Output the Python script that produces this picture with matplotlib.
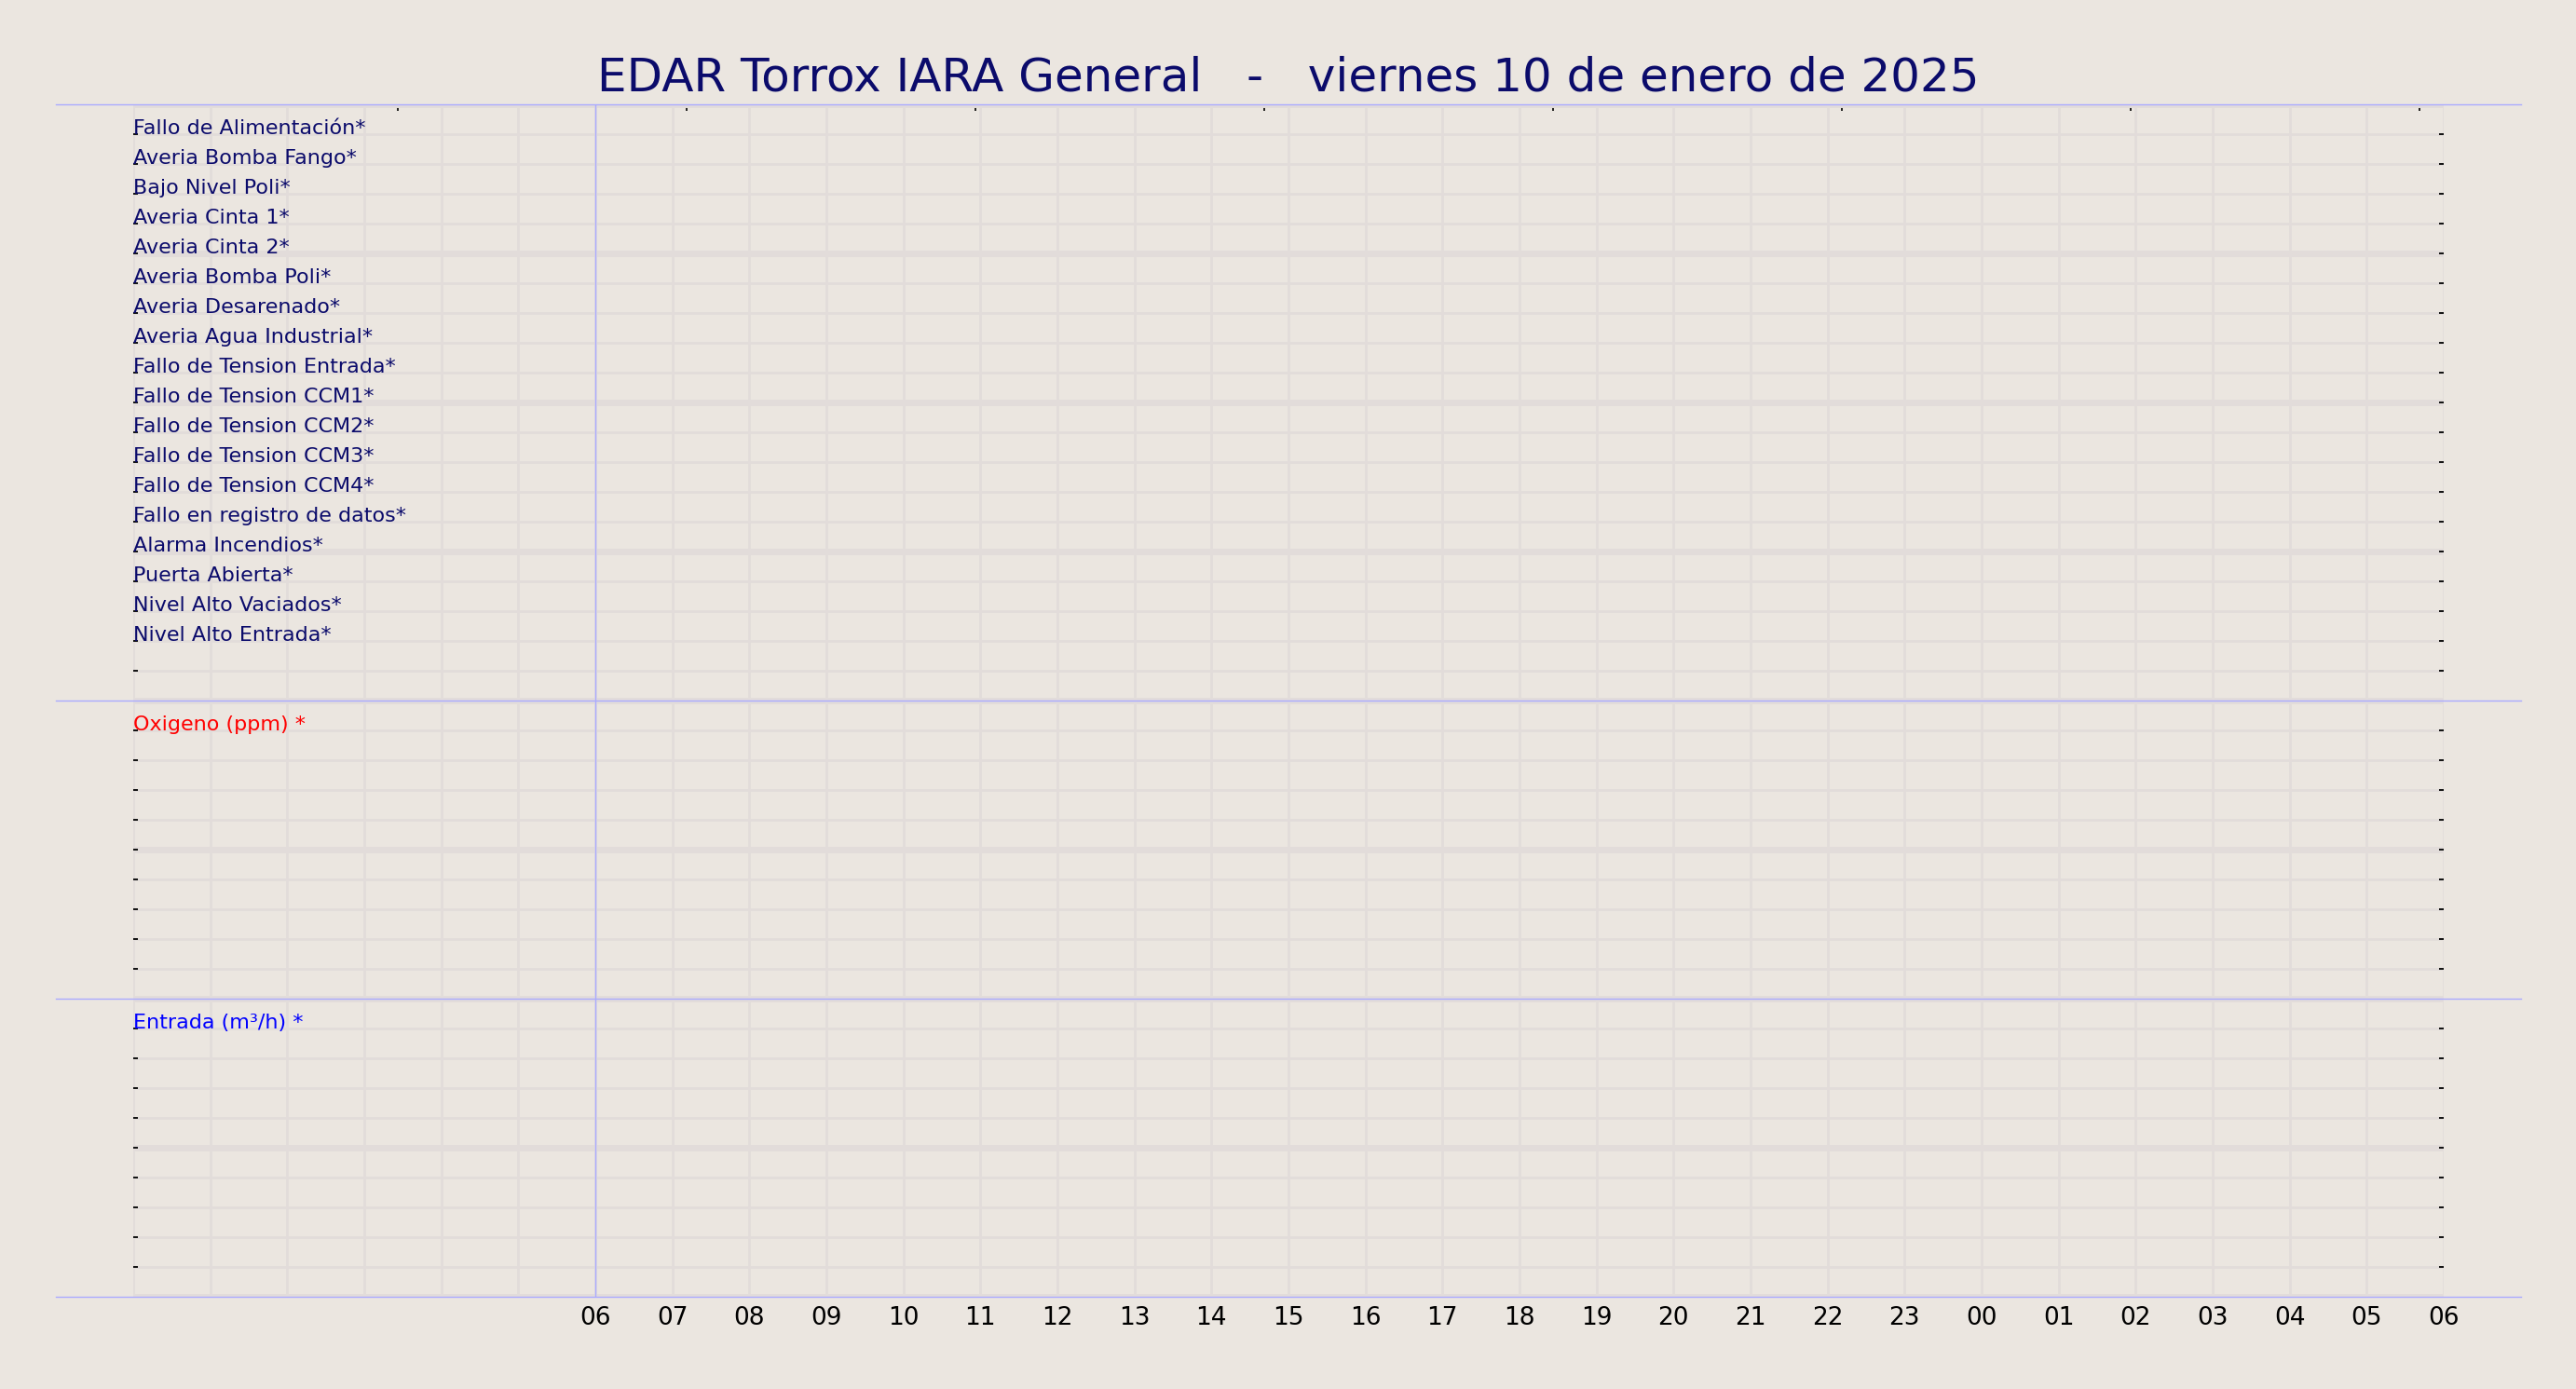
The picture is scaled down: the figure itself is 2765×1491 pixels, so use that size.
import matplotlib.pyplot as plt
from matplotlib.lines import Line2D
from matplotlib.ticker import FixedLocator

# datos del gráfico
titulo = "EDAR Torrox IARA General   -   viernes 10 de enero de 2025"
alarmas = ["Fallo de Alimentación*", "Averia Bomba Fango*", "Bajo Nivel Poli*",
           "Averia Cinta 1*", "Averia Cinta 2*", "Averia Bomba Poli*",
           "Averia Desarenado*", "Averia Agua Industrial*", "Fallo de Tension Entrada*",
           "Fallo de Tension CCM1*", "Fallo de Tension CCM2*", "Fallo de Tension CCM3*",
           "Fallo de Tension CCM4*", "Fallo en registro de datos*", "Alarma Incendios*",
           "Puerta Abierta*", "Nivel Alto Vaciados*", "Nivel Alto Entrada*"]
analogicas = ["Oxigeno (ppm) *", "Entrada (m³/h) *"]
colores_analog = ["#ff0000", "#0000ff"]
horas = list(range(0, 31))
etiquetas_horas = [""] * 6 + ["%02d" % (h % 24) for h in range(6, 31)]
ticks_superiores = [3.435, 7.185, 10.935, 14.685, 18.435, 22.19, 25.93, 29.69]
filas_paneles = [20, 10, 10]

fondo = "#ebe6e0"
rejilla = "#e2dcda"
azul = "#aaaaff"
marino = "#0b0b6b"

W, H = 2765, 1491
fig = plt.figure(figsize=(W / 100, H / 100), dpi=100, facecolor=fondo)

izq, der = 143, 2623
bordes = [112, 752, 1072, 1392]

ejes = []
for i, filas in enumerate(filas_paneles):
    top, bot = bordes[i], bordes[i + 1]
    ax = fig.add_axes([izq / W, (H - bot) / H, (der - izq) / W, (bot - top) / H])
    ax.set_facecolor(fondo)
    ax.set_xlim(0, 30)
    ax.set_ylim(filas, 0)
    for s in ax.spines.values():
        s.set_visible(False)
    # rejilla gruesa cada 5 filas, fina cada fila; marcas solo en filas interiores
    ax.yaxis.remove_overlapping_locs = False
    ax.yaxis.set_major_locator(FixedLocator(list(range(0, filas + 1, 5))))
    ax.yaxis.set_minor_locator(FixedLocator(list(range(1, filas))))
    ax.set_xticks(horas)
    ax.grid(which="minor", axis="y", color=rejilla, lw=2, zorder=0)
    ax.grid(which="major", axis="y", color=rejilla, lw=5, zorder=0)
    ax.grid(which="major", axis="x", color=rejilla, lw=2, zorder=0)
    ax.set_axisbelow(True)
    ax.tick_params(axis="y", which="major", left=False, right=False, labelleft=False)
    ax.tick_params(axis="y", which="minor", left=True, right=True, direction="in",
                   length=3.5, width=1.3, color="black", labelleft=False)
    ax.tick_params(axis="x", length=0, pad=7, labelsize=19)
    if i == len(filas_paneles) - 1:
        ax.set_xticklabels(etiquetas_horas)
    else:
        ax.set_xticklabels([])
    ax.axvline(6, color=azul, lw=1, zorder=3)
    ejes.append(ax)

# panel de alarmas
for j, nombre in enumerate(alarmas):
    ejes[0].text(0, j + 1, nombre, color=marino, fontsize=16, ha="left", va="baseline")

# marcas superiores
sec = ejes[0].secondary_xaxis("top")
sec.set_xticks(ticks_superiores)
sec.set_xticklabels([])
sec.tick_params(direction="in", length=5, width=1.2)
sec.spines["top"].set_visible(False)

# paneles analógicos
for ax, nombre, c in zip(ejes[1:], analogicas, colores_analog):
    ax.text(0, 1, nombre, color=c, fontsize=16, ha="left", va="baseline")

# líneas separadoras
for y in bordes:
    yf = (H - y) / H
    fig.add_artist(Line2D([60 / W, 2706 / W], [yf, yf], color=azul, lw=1))

fig.text(0.5, (H - 97) / H, titulo, ha="center", va="baseline",
         fontsize=36, color=marino)

fig.savefig("out.png", dpi=100, facecolor=fondo)
